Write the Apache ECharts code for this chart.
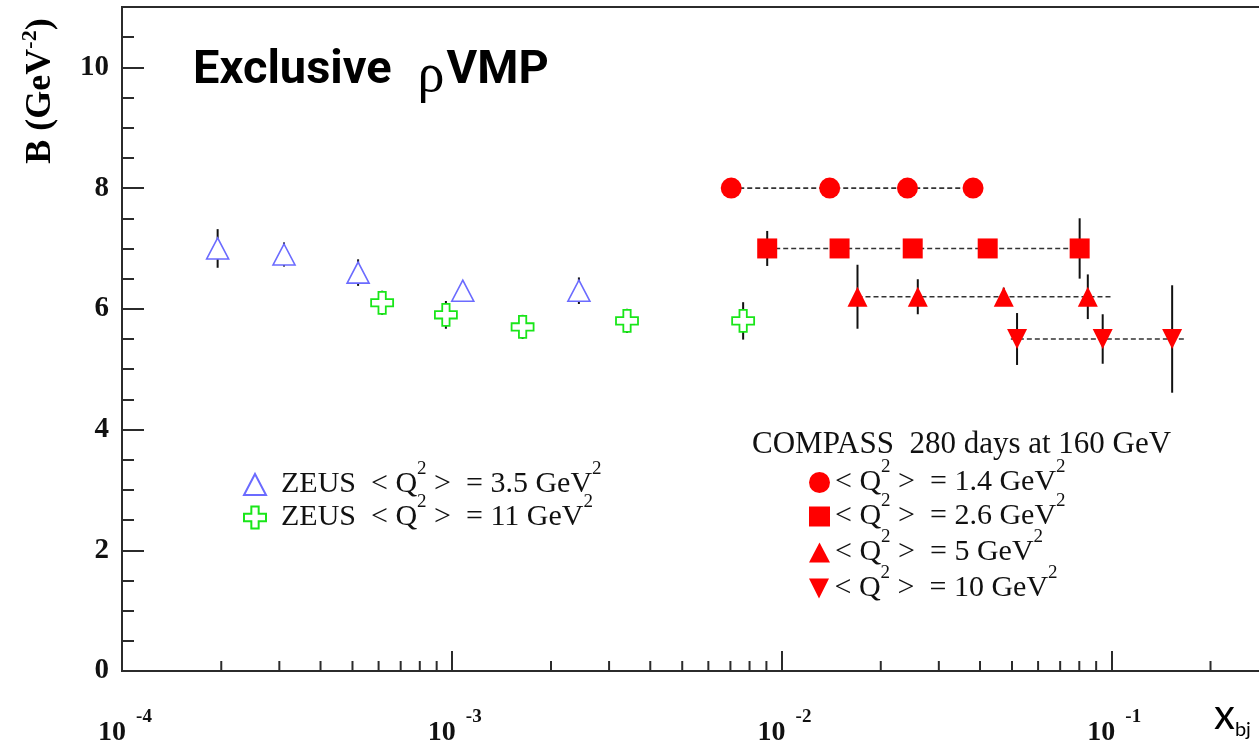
<!DOCTYPE html>
<html>
<head>
<meta charset="utf-8">
<script src="https://cdn.jsdelivr.net/npm/echarts@6/dist/echarts.min.js"></script>
<style>
html, body { margin: 0; padding: 0; background: #ffffff; }
#chart { width: 1259px; height: 745px; }
</style>
</head>
<body>
<div id="chart"></div>
<script>
// ZEUS, <Q^2> = 3.5 GeV^2 (open triangles)
const zeus35X   = [1.95e-4, 3.1e-4, 5.2e-4, 1.08e-3, 2.43e-3];
const zeus35B   = [7.0, 6.9, 6.6, 6.3, 6.3];
const zeus35Err = [0.32, 0.2, 0.22, 0.15, 0.22];

// ZEUS, <Q^2> = 11 GeV^2 (open crosses)
const zeus11X   = [6.15e-4, 9.6e-4, 1.64e-3, 3.4e-3, 7.65e-3];
const zeus11B   = [6.1, 5.9, 5.7, 5.8, 5.8];
const zeus11Err = [0.2, 0.23, 0.2, 0.2, 0.31];

// COMPASS projections, 280 days at 160 GeV
const q14X   = [7.04e-3, 1.40e-2, 2.41e-2, 3.81e-2];
const q14B   = [8, 8, 8, 8];
const q14Err = [0.1, 0.1, 0.1, 0.1];

const q26X   = [9.05e-3, 1.50e-2, 2.50e-2, 4.22e-2, 8.02e-2];
const q26B   = [7, 7, 7, 7, 7];
const q26Err = [0.29, 0.12, 0.12, 0.12, 0.5];

const q5X    = [1.70e-2, 2.59e-2, 4.72e-2, 8.49e-2];
const q5B    = [6.2, 6.2, 6.2, 6.2];
const q5Err  = [0.53, 0.29, 0.15, 0.37];

const q10X   = [5.18e-2, 9.42e-2, 0.153];
const q10B   = [5.5, 5.5, 5.5];
const q10Err = [0.43, 0.41, 0.89];

// x extent of the dotted guide line drawn through each COMPASS set
const q14Span = [7.04e-3, 3.81e-2];
const q26Span = [9.05e-3, 8.02e-2];
const q5Span  = [1.70e-2, 0.1];
const q10Span = [4.96e-2, 0.168];

// axis ticks
const yTickLabels = [0, 2, 4, 6, 8, 10];
const xDecades = [1e-4, 1e-3, 1e-2, 1e-1];
const xMantissas = [2, 3, 4, 5, 6, 7, 8, 9];
const xMinorTicks = [];
xDecades.forEach(d => xMantissas.forEach(m => xMinorTicks.push([m * d, 0])));

const AXIS = '#2b2b2b';
const RED = '#ff0000';
const BLUE = '#6b6bff';
const GREEN = '#19e619';
const SERIF = '"Liberation Serif", "Times New Roman", serif';
const CROSS = 'path://M1,0 H2 V1 H3 V2 H2 V3 H1 V2 H0 V1 H1 Z';
const DOWN_TRIANGLE = 'path://M0,0 L2,0 L1,2 Z';

const names = {
  z35: 'ZEUS <Q2> = 3.5 GeV2',
  z11: 'ZEUS <Q2> = 11 GeV2',
  c14: '<Q2> = 1.4 GeV2',
  c26: '<Q2> = 2.6 GeV2',
  c5:  '<Q2> = 5 GeV2',
  c10: '<Q2> = 10 GeV2'
};
const legendText = {
  [names.z35]: '{p|ZEUS  < Q}{s|2}{t| >  = 3.5 GeV}{s|2}',
  [names.z11]: '{p|ZEUS  < Q}{s|2}{t| >  = 11 GeV}{s|2}',
  [names.c14]: '{t|< Q}{s|2}{t| >  = 1.4 GeV}{s|2}',
  [names.c26]: '{t|< Q}{s|2}{t| >  = 2.6 GeV}{s|2}',
  [names.c5]:  '{t|< Q}{s|2}{t| >  = 5 GeV}{s|2}',
  [names.c10]: '{t|< Q}{s|2}{t| >  = 10 GeV}{s|2}'
};
const legendRich = {
  p: { fontFamily: SERIF, fontSize: 30, color: '#111', padding: [0, 0, 0, 10] },
  t: { fontFamily: SERIF, fontSize: 30, color: '#111' },
  s: { fontFamily: SERIF, fontSize: 19, color: '#111', padding: [0, 0, 30, 0] }
};

function pts(xs, ys) { return xs.map((x, i) => [x, ys[i]]); }

function errorBars(xs, ys, errs) {
  return {
    type: 'custom',
    silent: true,
    z: 2,
    clip: false,
    data: xs.map((x, i) => [x, ys[i] - errs[i], ys[i] + errs[i]]),
    encode: { x: 0, y: [1, 2] },
    renderItem(params, api) {
      const lo = api.coord([api.value(0), api.value(1)]);
      const hi = api.coord([api.value(0), api.value(2)]);
      return {
        type: 'line',
        shape: { x1: lo[0], y1: lo[1], x2: hi[0], y2: hi[1] },
        style: { stroke: '#111', lineWidth: 2 }
      };
    }
  };
}

function guideLine(span, y) {
  return {
    type: 'line',
    silent: true,
    z: 1,
    symbol: 'none',
    data: span.map(x => [x, y]),
    lineStyle: { color: '#333', width: 1.6, type: [5, 3] }
  };
}

function markers(name, xs, ys, symbol, size, style) {
  return {
    type: 'scatter',
    name: name,
    z: 5,
    symbol: symbol,
    symbolSize: size,
    data: pts(xs, ys),
    itemStyle: Object.assign({ opacity: 1 }, style),
    emphasis: { disabled: true }
  };
}

function legendRow(name, left, top, w, h) {
  return {
    data: [name],
    orient: 'vertical',
    left: left,
    top: top,
    padding: 0,
    itemWidth: w,
    itemHeight: h,
    selectedMode: false,
    textStyle: { rich: legendRich },
    formatter: n => legendText[n]
  };
}

const chart = echarts.init(document.getElementById('chart'), null, { renderer: 'canvas' });

chart.setOption({
  animation: false,
  backgroundColor: '#ffffff',
  grid: {
    left: 122, top: 7, width: 1319, height: 664,
    outerBoundsMode: 'none',
    containLabel: false,
    show: true, borderColor: AXIS, borderWidth: 2, backgroundColor: 'transparent'
  },
  xAxis: {
    type: 'log',
    logBase: 10,
    min: 1e-4,
    max: 1,
    axisLine: { lineStyle: { color: AXIS, width: 2 } },
    axisTick: { inside: true, length: 20, lineStyle: { color: AXIS, width: 2 } },
    splitLine: { show: false },
    axisLabel: {
      margin: 37,
      formatter: v => '{b|10}{s|' + Math.round(Math.log10(v)) + '}',
      rich: {
        b: { fontFamily: SERIF, fontWeight: 'bold', fontSize: 28, color: '#111', padding: [0, 0, 0, 6] },
        s: { fontFamily: SERIF, fontWeight: 'bold', fontSize: 19, color: '#111', padding: [0, 0, 30, 10] }
      }
    }
  },
  yAxis: [
    {
      type: 'value',
      min: 0, max: 11, interval: 0.5,
      axisLine: { show: true, lineStyle: { color: AXIS, width: 2 } },
      axisTick: { inside: true, length: 12, lineStyle: { color: AXIS, width: 2 } },
      splitLine: { show: false },
      axisLabel: {
        margin: 13,
        fontFamily: SERIF, fontWeight: 'bold', fontSize: 29, color: '#111',
        formatter: v => (yTickLabels.indexOf(v) >= 0 ? String(v) : '')
      }
    },
    {
      type: 'value',
      position: 'left',
      min: 0, max: 11, interval: 2,
      axisLine: { show: false },
      axisTick: { inside: true, length: 22, lineStyle: { color: AXIS, width: 2 } },
      axisLabel: { show: false },
      splitLine: { show: false }
    }
  ],
  legend: [
    legendRow(names.z35, 243, 460, 22, 21),
    legendRow(names.z11, 243, 493, 22, 22),
    legendRow(names.c14, 809, 458, 21, 21),
    legendRow(names.c26, 809, 492, 21, 20),
    legendRow(names.c5,  809, 528, 21, 20),
    legendRow(names.c10, 809, 564, 21, 20)
  ],
  graphic: [
    {
      type: 'text', left: 193, top: 48,
      style: {
        text: '{a|Exclusive}{r|ρ}{a|VMP}',
        rich: {
          a: { fontFamily: 'Roboto', fontWeight: 'bold', fontSize: 47, color: '#000' },
          r: { fontFamily: SERIF, fontSize: 54, color: '#000', padding: [10, 2, 0, 26] }
        }
      }
    },
    {
      type: 'text', x: 41, y: 91, rotation: Math.PI / 2,
      style: {
        text: '{m|B (GeV}{s|-2}{m|)}',
        align: 'center', verticalAlign: 'middle',
        rich: {
          m: { fontFamily: SERIF, fontWeight: 'bold', fontSize: 36, color: '#111' },
          s: { fontFamily: SERIF, fontWeight: 'bold', fontSize: 22, color: '#111', padding: [0, 0, 22, 0] }
        }
      }
    },
    {
      type: 'text', x: 752, y: 445,
      style: {
        text: 'COMPASS  280 days at 160 GeV',
        fontFamily: SERIF, fontSize: 31, fill: '#111',
        verticalAlign: 'middle'
      }
    },
    {
      type: 'text', x: 1214, y: 690,
      style: {
        text: '{x|x}{b|bj}',
        rich: {
          x: { fontFamily: 'Lato', fontSize: 42, color: '#000' },
          b: { fontFamily: 'Lato', fontSize: 20, color: '#000', padding: [30, 0, 0, 0] }
        }
      }
    }
  ],
  series: [
    {
      type: 'custom',
      silent: true,
      clip: false,
      z: 3,
      data: xMinorTicks,
      encode: { x: 0, y: 1 },
      renderItem(params, api) {
        const p = api.coord([api.value(0), api.value(1)]);
        return {
          type: 'line',
          shape: { x1: p[0], y1: p[1], x2: p[0], y2: p[1] - 10 },
          style: { stroke: AXIS, lineWidth: 2 }
        };
      }
    },
    guideLine(q14Span, q14B[0]),
    guideLine(q26Span, q26B[0]),
    guideLine(q5Span, q5B[0]),
    guideLine(q10Span, q10B[0]),
    errorBars(zeus35X, zeus35B, zeus35Err),
    errorBars(zeus11X, zeus11B, zeus11Err),
    errorBars(q14X, q14B, q14Err),
    errorBars(q26X, q26B, q26Err),
    errorBars(q5X, q5B, q5Err),
    errorBars(q10X, q10B, q10Err),
    markers(names.z35, zeus35X, zeus35B, 'triangle', [22, 21],
      { color: '#ffffff', borderColor: BLUE, borderWidth: 1.6 }),
    markers(names.z11, zeus11X, zeus11B, CROSS, [22, 22],
      { color: '#ffffff', borderColor: GREEN, borderWidth: 1.8 }),
    markers(names.c14, q14X, q14B, 'circle', 21, { color: RED }),
    markers(names.c26, q26X, q26B, 'rect', 20, { color: RED }),
    markers(names.c5, q5X, q5B, 'triangle', [20, 20], { color: RED }),
    markers(names.c10, q10X, q10B, DOWN_TRIANGLE, [20, 20], { color: RED })
  ]
});
</script>
</body>
</html>
